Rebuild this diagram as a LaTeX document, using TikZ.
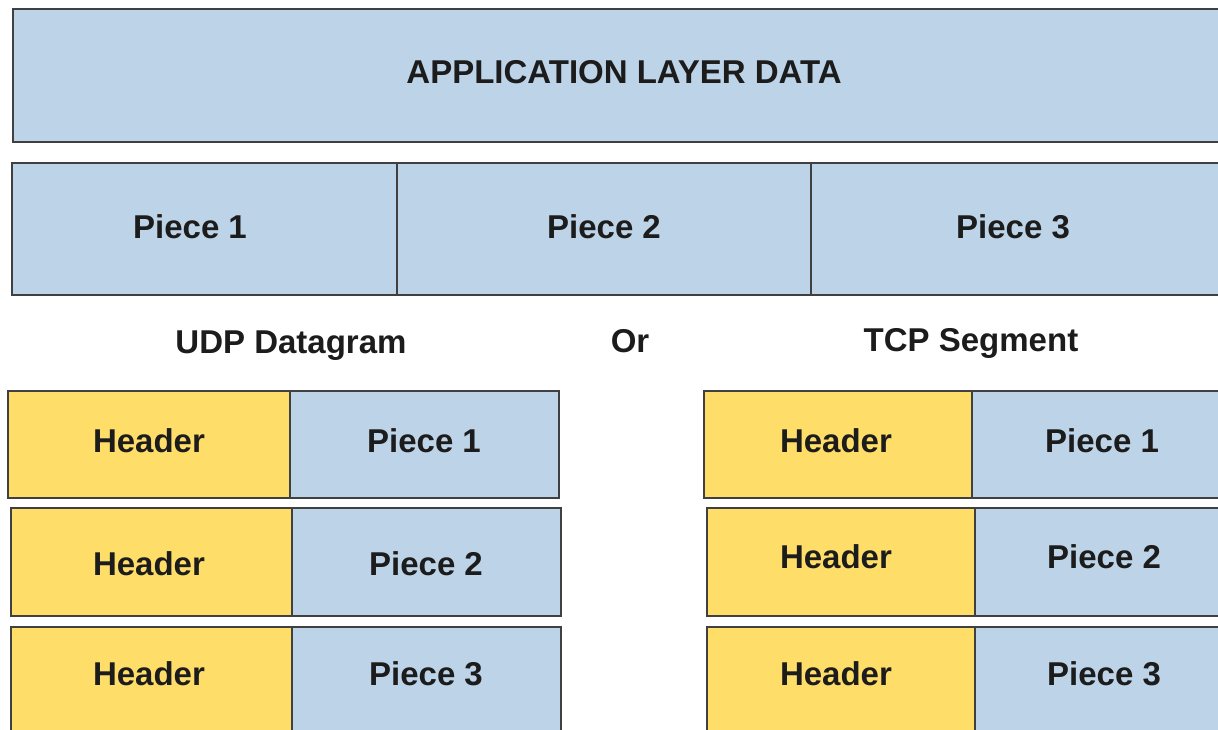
\documentclass[tikz,border=0pt]{standalone}
\usepackage{fontspec}
\setmainfont{Liberation Sans}
\definecolor{pieceblue}{HTML}{BDD3E7}
\definecolor{hdryellow}{HTML}{FEDE68}
\definecolor{edge}{HTML}{404040}
\definecolor{ink}{HTML}{1C1C1C}
\tikzset{
  cell/.style={draw=edge, line width=2.2pt, inner sep=0pt, outer sep=0pt, anchor=north west},
  datacell/.style={cell, fill=pieceblue},
  hdrcell/.style={cell, fill=hdryellow},
  lbl/.style={anchor=base, inner sep=0pt, text=ink, font=\bfseries\fontsize{33}{38}\selectfont},
}
\begin{document}
\begin{tikzpicture}[x=1pt, y=-1pt]
\path[use as bounding box] (0,0) rectangle (1218,730);
\clip (0,0) rectangle (1218,730);
% application data block
\node[datacell, minimum width=1227pt, minimum height=133pt] (app) at (13,9) {};
% data split into pieces
\node[datacell, minimum width=385pt, minimum height=132pt] (p1) at (12,163) {};
\node[datacell, minimum width=414pt, minimum height=132pt] (p2) at (397,163) {};
\node[datacell, minimum width=429pt, minimum height=132pt] (p3) at (811,163) {};
% UDP datagrams
\node[hdrcell, minimum width=282pt, minimum height=107pt] (uh1) at (8,391) {};
\node[datacell, minimum width=269pt, minimum height=107pt] (up1) at (290,391) {};
\node[hdrcell, minimum width=281pt, minimum height=108pt] (uh2) at (11,508) {};
\node[datacell, minimum width=269pt, minimum height=108pt] (up2) at (292,508) {};
\node[hdrcell, minimum width=281pt, minimum height=120pt] (uh3) at (11,627) {};
\node[datacell, minimum width=269pt, minimum height=120pt] (up3) at (292,627) {};
% TCP segments
\node[hdrcell, minimum width=268pt, minimum height=107pt] (th1) at (704,391) {};
\node[datacell, minimum width=268pt, minimum height=107pt] (tp1) at (972,391) {};
\node[hdrcell, minimum width=268pt, minimum height=108pt] (th2) at (707,508) {};
\node[datacell, minimum width=265pt, minimum height=108pt] (tp2) at (975,508) {};
\node[hdrcell, minimum width=268pt, minimum height=120pt] (th3) at (707,627) {};
\node[datacell, minimum width=265pt, minimum height=120pt] (tp3) at (975,627) {};
% labels
\node[lbl] (l-app) at (624,84) {APPLICATION LAYER DATA};
\node[lbl] (l-p1) at (190,238) {Piece 1};
\node[lbl] (l-p2) at (604,238) {Piece 2};
\node[lbl] (l-p3) at (1013,238) {Piece 3};
\node[lbl] (l-udp) at (291,353) {UDP Datagram};
\node[lbl] (l-or) at (630,352) {Or};
\node[lbl] (l-tcp) at (971,351) {TCP Segment};
\node[lbl] (l-uh1) at (149,452) {Header};
\node[lbl] (l-up1) at (424,452) {Piece 1};
\node[lbl] (l-uh2) at (149,575) {Header};
\node[lbl] (l-up2) at (426,575) {Piece 2};
\node[lbl] (l-uh3) at (149,685) {Header};
\node[lbl] (l-up3) at (426,685) {Piece 3};
\node[lbl] (l-th1) at (836,452) {Header};
\node[lbl] (l-tp1) at (1102,452) {Piece 1};
\node[lbl] (l-th2) at (836,568) {Header};
\node[lbl] (l-tp2) at (1104,568) {Piece 2};
\node[lbl] (l-th3) at (836,685) {Header};
\node[lbl] (l-tp3) at (1104,685) {Piece 3};
\end{tikzpicture}
\end{document}
